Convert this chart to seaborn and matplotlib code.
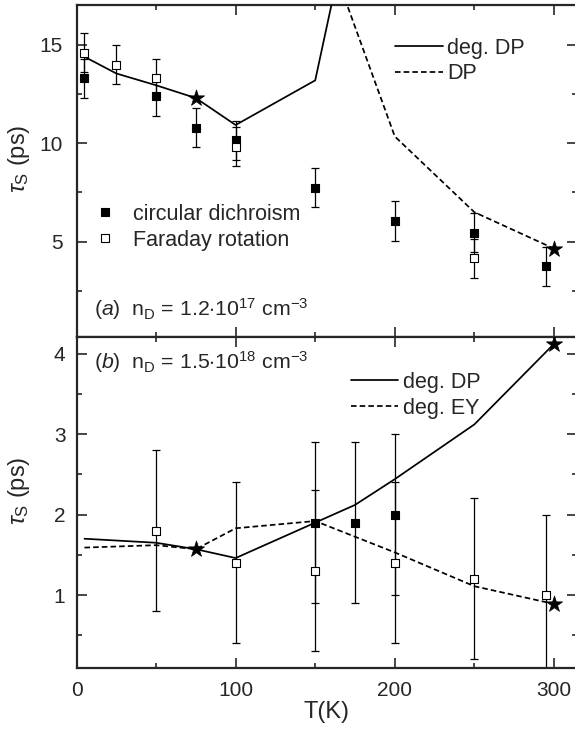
import matplotlib
matplotlib.use("Agg")
import matplotlib.pyplot as plt
from matplotlib.ticker import MultipleLocator
from matplotlib.lines import Line2D
import seaborn as sns

# ---- panel (a): n_D = 1.2e17 cm^-3 ----
a_cd_T = [5, 50, 75, 100, 150, 200, 250, 295]
a_cd_tau = [13.3, 12.4, 10.8, 10.15, 7.75, 6.05, 5.45, 3.75]
a_cd_err = [1.0, 1.0, 1.0, 1.0, 1.0, 1.0, 1.0, 1.0]
a_fr_T = [5, 25, 50, 100, 250]
a_fr_tau = [14.6, 14.0, 13.3, 9.83, 4.15]
a_fr_err = [1.0, 1.0, 1.0, 1.0, 1.0]
a_degdp_T = [5, 25, 50, 75, 100, 150, 200]
a_degdp_tau = [14.4, 13.55, 12.95, 12.3, 10.93, 13.2, 32.0]
a_dp_T = [150, 200, 250, 300]
a_dp_tau = [21.5, 10.35, 6.5, 4.65]
a_star_T = [75, 300]
a_star_tau = [12.3, 4.65]

# ---- panel (b): n_D = 1.5e18 cm^-3 ----
b_cd_T = [150, 175, 200]
b_cd_tau = [1.9, 1.9, 2.0]
b_cd_err = [1.0, 1.0, 1.0]
b_fr_T = [50, 100, 150, 200, 250, 295]
b_fr_tau = [1.8, 1.4, 1.3, 1.4, 1.2, 1.0]
b_fr_err = [1.0, 1.0, 1.0, 1.0, 1.0, 1.0]
b_degdp_T = [5, 50, 75, 100, 150, 175, 200, 250, 300]
b_degdp_tau = [1.70, 1.65, 1.57, 1.46, 1.90, 2.12, 2.44, 3.12, 4.12]
b_degey_T = [5, 50, 75, 100, 150, 200, 250, 300]
b_degey_tau = [1.59, 1.62, 1.57, 1.83, 1.92, 1.53, 1.11, 0.89]
b_star_T = [75, 300, 300]
b_star_tau = [1.57, 4.12, 0.89]

sns.set_style("ticks")
plt.rcParams["font.family"] = ["Liberation Sans", "DejaVu Sans"]
plt.rcParams["mathtext.fontset"] = "custom"
plt.rcParams["mathtext.rm"] = "Liberation Sans"
plt.rcParams["mathtext.it"] = "Liberation Sans:italic"
plt.rcParams["mathtext.bf"] = "Liberation Sans:bold"

W, H = 575, 729
fig = plt.figure(figsize=(W / 100, H / 100), dpi=100)

x0, x1 = 76.5, 577
ya_top, y_mid, yb_bot = 5, 336.7, 668
ax_a = fig.add_axes([x0 / W, 1 - y_mid / H, (x1 - x0) / W, (y_mid - ya_top) / H])
ax_b = fig.add_axes([x0 / W, 1 - yb_bot / H, (x1 - x0) / W, (yb_bot - y_mid) / H])

DASH = (0, (3.2, 1.8))
LW = 1.25


def curve(ax, T, tau, ls):
    sns.lineplot(x=T, y=tau, ax=ax, color="black", lw=LW, linestyle=ls,
                 estimator=None, sort=False, zorder=3)


def points(ax, T, tau, err, filled):
    ax.errorbar(T, tau, yerr=err, fmt="none", ecolor="black", elinewidth=0.9,
                capsize=2.6, capthick=0.9, zorder=2)
    sns.scatterplot(x=T, y=tau, ax=ax, marker="s", s=36,
                    color="black" if filled else "white",
                    edgecolor="black", linewidth=0.8, zorder=4)


def stars(ax, T, tau):
    sns.scatterplot(x=T, y=tau, ax=ax, marker="*", s=150, color="black",
                    edgecolor="black", linewidth=0.5, zorder=5)


# panel (a)
curve(ax_a, a_degdp_T, a_degdp_tau, "-")
curve(ax_a, a_dp_T, a_dp_tau, DASH)
points(ax_a, a_cd_T, a_cd_tau, a_cd_err, True)
points(ax_a, a_fr_T, a_fr_tau, a_fr_err, False)
stars(ax_a, a_star_T, a_star_tau)

# panel (b)
curve(ax_b, b_degdp_T, b_degdp_tau, "-")
curve(ax_b, b_degey_T, b_degey_tau, DASH)
points(ax_b, b_cd_T, b_cd_tau, b_cd_err, True)
points(ax_b, b_fr_T, b_fr_tau, b_fr_err, False)
stars(ax_b, b_star_T, b_star_tau)

ax_a.set_xlim(0, 314.5)
ax_b.set_xlim(0, 314.5)
ax_a.set_ylim(0.17, 17.03)
ax_b.set_ylim(0.094, 4.21)

for ax in (ax_a, ax_b):
    ax.xaxis.set_major_locator(MultipleLocator(100))
    ax.xaxis.set_minor_locator(MultipleLocator(50))
    ax.tick_params(which="both", direction="in", top=True, right=True,
                   width=1.2, labelsize=15, pad=9)
    ax.tick_params(which="major", length=7)
    ax.tick_params(which="minor", length=3.5)
    for s in ax.spines.values():
        s.set_linewidth(1.6)
    ax.set_ylabel(r"$\tau_\mathrm{S}$ (ps)", fontsize=17)
    ax.yaxis.set_label_coords(-(x0 - 32) / (x1 - x0), 0.535)

ax_a.yaxis.set_major_locator(MultipleLocator(5))
ax_a.yaxis.set_minor_locator(MultipleLocator(2.5))
ax_b.yaxis.set_major_locator(MultipleLocator(1))
ax_b.yaxis.set_minor_locator(MultipleLocator(0.5))
ax_a.tick_params(labelbottom=False)
ax_a.set_xlabel("")
ax_b.set_xlabel("T(K)", fontsize=17, labelpad=1)
ax_a.tick_params(axis="y", pad=10)
ax_b.tick_params(axis="y", pad=8)

# legends
leg_font = 15.5
h_line = Line2D([], [], color="black", lw=LW, linestyle="-")
h_dash = Line2D([], [], color="black", lw=LW, linestyle=DASH)
h_fill = Line2D([], [], color="black", marker="s", markersize=6, lw=0,
                markerfacecolor="black", markeredgewidth=0.8)
h_open = Line2D([], [], color="black", marker="s", markersize=6, lw=0,
                markerfacecolor="white", markeredgewidth=0.8)

leg1 = ax_a.legend([h_line, h_dash], ["deg. DP", "DP"], loc="upper left",
                   bbox_to_anchor=(0.637, 0.901), frameon=False, fontsize=leg_font,
                   handlelength=2.2, handletextpad=0.2, labelspacing=0.2,
                   borderpad=0, borderaxespad=0)
ax_a.add_artist(leg1)
ax_a.legend([h_fill, h_open], ["circular dichroism", "Faraday rotation"],
            loc="upper left", bbox_to_anchor=(0.036, 0.400), frameon=False,
            fontsize=leg_font, handlelength=1.0, handletextpad=0.8,
            labelspacing=0.22, borderpad=0, borderaxespad=0)
ax_b.legend([h_line, h_dash], ["deg. DP", "deg. EY"], loc="upper left",
            bbox_to_anchor=(0.549, 0.894), frameon=False, fontsize=leg_font,
            handlelength=2.15, handletextpad=0.23, labelspacing=0.22,
            borderpad=0, borderaxespad=0)

# sample annotations
ax_a.text(0.034, 0.062, r"($\mathit{a}$)  n$_\mathrm{D}$ = 1.2$\cdot$10$^{17}$ cm$^{-3}$",
          transform=ax_a.transAxes, fontsize=15.3, va="baseline", ha="left")
ax_b.text(0.034, 0.9025, r"($\mathit{b}$)  n$_\mathrm{D}$ = 1.5$\cdot$10$^{18}$ cm$^{-3}$",
          transform=ax_b.transAxes, fontsize=15.3, va="baseline", ha="left")

fig.savefig("out.png", dpi=100)
